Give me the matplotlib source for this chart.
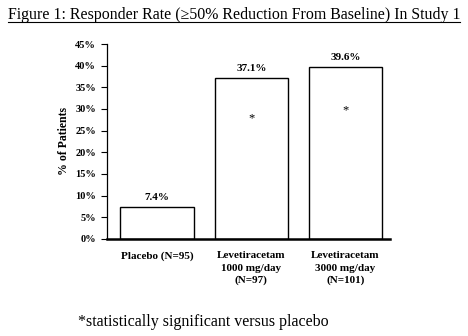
import matplotlib
matplotlib.use("Agg")
import matplotlib.pyplot as plt
from matplotlib.lines import Line2D

categories = ["Placebo (N=95)", "Levetiracetam\n1000 mg/day\n(N=97)", "Levetiracetam\n3000 mg/day\n(N=101)"]
rates = [7.4, 37.1, 39.6]
significant = [False, True, True]
yticks = [0, 5, 10, 15, 20, 25, 30, 35, 40, 45]

plt.rcParams['font.family'] = ['Liberation Serif', 'DejaVu Serif']

fig = plt.figure(figsize=(4.68, 3.36), dpi=100)
ax = fig.add_axes([0.229, 0.289, 0.604, 0.58])

x = list(range(len(categories)))
ax.bar(x, rates, width=0.78, color='white', edgecolor='black', linewidth=1.0)

for xi, r, sig in zip(x, rates, significant):
    ax.text(xi, r + 1.2, f"{r}%", ha='center', va='bottom', fontsize=8, fontweight='bold')
    if sig:
        ax.text(xi, r * 0.75, "*", ha='center', va='center', fontsize=9)

ax.set_xlim(-0.53, 2.47)
ax.set_ylim(0, 45)
ax.set_yticks(yticks)
ax.set_yticklabels([f"{t}%" for t in yticks], fontsize=7.5, fontweight='bold')
ax.set_xticks(x)
ax.set_xticklabels(categories, fontsize=8, fontweight='bold', linespacing=1.45)
ax.tick_params(axis='x', length=0, pad=9)
ax.tick_params(axis='y', direction='out', length=4, width=0.8, pad=4)
ax.set_ylabel("% of Patients", fontsize=8.5, fontweight='bold', labelpad=4)

ax.spines['top'].set_visible(False)
ax.spines['right'].set_visible(False)
ax.spines['left'].set_linewidth(0.9)
ax.spines['bottom'].set_linewidth(1.8)

title = fig.text(0.5, 0.955, "Figure 1: Responder Rate (\u226550% Reduction From Baseline) In Study 1",
                 ha='center', va='center', fontsize=11.4)
fig.text(0.167, 0.042, "*statistically significant versus placebo", ha='left', va='center', fontsize=11.5)

# underline the title
fig.canvas.draw()
bb = title.get_window_extent().transformed(fig.transFigure.inverted())
fig.add_artist(Line2D([bb.x0, bb.x1], [bb.y0 + 0.004, bb.y0 + 0.004], color='black', linewidth=0.8,
                      transform=fig.transFigure))

fig.savefig("out.png", dpi=100, facecolor='white')
